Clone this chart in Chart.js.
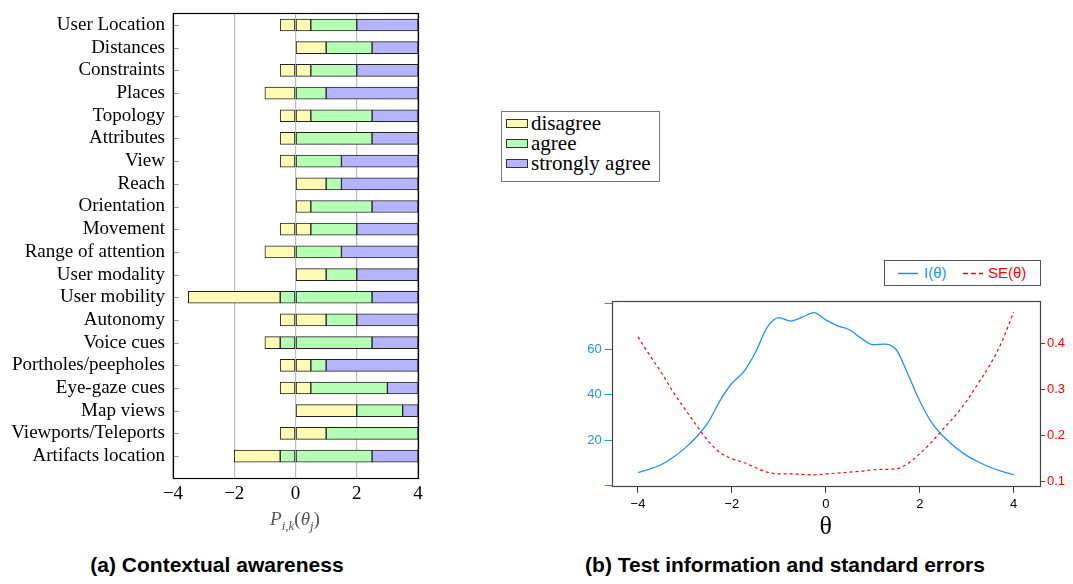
<!DOCTYPE html>
<html>
<head>
<meta charset="utf-8">
<script src="https://cdn.jsdelivr.net/npm/chart.js@4.4.1/dist/chart.umd.min.js"></script>
<style>
  html, body { margin: 0; padding: 0; background: #fff; }
  body { width: 1073px; height: 584px; position: relative; overflow: hidden; }
  #chartA { position: absolute; left: 0; top: 0; }
  #chartB { position: absolute; left: 560px; top: 290px; }
  .legend-a {
    position: absolute; left: 501px; top: 111px; width: 157px; height: 68px;
    border: 1px solid #777; font-family: "Liberation Serif", serif; font-size: 21px; padding-top: 1px;
  }
  .legend-a .row { height: 20px; line-height: 20px; display: flex; align-items: center; }
  .legend-a .sw { width: 20px; height: 7px; border: 1px solid #333; margin: 0 3px 0 4px; }
  .legend-b {
    position: absolute; left: 884px; top: 260px; width: 155px; height: 24px;
    border: 1px solid #555; font-family: "Liberation Sans", Arial, sans-serif; font-size: 15px;
  }
  .legend-b span { position: absolute; top: 3px; line-height: 18px; }
  .legend-b svg { position: absolute; top: 0; left: 0; }
  .xtitle-a {
    position: absolute; left: 195px; width: 200px; top: 507px; text-align: center;
    font-family: "Liberation Serif", serif; font-size: 19px; color: #555; line-height: 24px;
  }
  .xtitle-a sub { font-size: 13px; font-style: italic; }
  .caption {
    position: absolute; top: 553px; width: 500px; text-align: center; line-height: 24px;
    font-family: "Liberation Sans", Arial, sans-serif; font-weight: bold; font-size: 21px; color: #000;
  }
</style>
</head>
<body>
<canvas id="chartA" width="440" height="540"></canvas>
<canvas id="chartB" width="513" height="260"></canvas>

<div class="legend-a">
  <div class="row"><div class="sw" style="background:#FFFAB5"></div>disagree</div>
  <div class="row"><div class="sw" style="background:#B5FFB5"></div>agree</div>
  <div class="row"><div class="sw" style="background:#B5B5FF"></div>strongly agree</div>
</div>

<div class="legend-b">
  <svg width="155" height="24">
    <line x1="13" y1="12.5" x2="33" y2="12.5" stroke="#1E90FF" stroke-width="1.5"/>
    <line x1="78" y1="12.5" x2="98" y2="12.5" stroke="#FF0000" stroke-width="1.5" stroke-dasharray="5,3"/>
  </svg>
  <span style="left:39px;color:#1E90FF">I(θ)</span>
  <span style="left:103px;color:#FF0000">SE(θ)</span>
</div>

<div class="xtitle-a"><i>P</i><sub>i,k</sub>(<i>θ</i><sub>j</sub>)</div>
<div class="caption" style="left:-33px">(a) Contextual awareness</div>
<div class="caption" style="left:535px">(b) Test information and standard errors</div>

<script>
// Panel (a) data: where each answer band starts on the theta scale
const categories = [
  "User Location", "Distances", "Constraints", "Places", "Topology", "Attributes", "View",
  "Reach", "Orientation", "Movement", "Range of attention", "User modality", "User mobility",
  "Autonomy", "Voice cues", "Portholes/peepholes", "Eye-gaze cues", "Map views",
  "Viewports/Teleports", "Artifacts location"
];
const disagreeFrom = [-0.5, 0, -0.5, -1, -0.5, -0.5, -0.5, 0, 0, -0.5, -1, 0, -3.5, -0.5, -1, -0.5, -0.5, 0, -0.5, -2];
const agreeFrom = [0.5, 1, 0.5, 0, 0.5, 0, 0, 1, 0.5, 0.5, 0, 1, -0.5, 1, -0.5, 0.5, 0.5, 2, 1, -0.5];
const stronglyFrom = [2, 2.5, 2, 1, 2.5, 2.5, 1.5, 1.5, 2.5, 2, 1.5, 2, 2.5, 2, 2.5, 1, 3, 3.5, 4, 2.5];
const upperBound = 4;
const thetaTicksA = [-4, -2, 0, 2, 4];

// Panel (b) data
const thetaGrid = [-4, -3.75, -3.5, -3.25, -3, -2.75, -2.5, -2.25, -2, -1.75, -1.5, -1.25, -1, -0.75, -0.5, -0.25,
  0, 0.25, 0.5, 0.75, 1, 1.25, 1.5, 1.75, 2, 2.25, 2.5, 2.75, 3, 3.25, 3.5, 3.75, 4];
const infoValues = [5.8, 7.3, 9.3, 12.5, 16.5, 21.5, 28, 37.5, 45, 50, 58.5, 69.5, 73.8, 72.3, 74, 76,
  72.8, 70.2, 68.5, 64.8, 61.9, 62.2, 59.7, 48.8, 37.2, 27.8, 21.7, 17, 13.2, 10.4, 8.1, 6.3, 4.8];
const seValues = [0.415, 0.375, 0.337, 0.295, 0.258, 0.222, 0.188, 0.163, 0.150, 0.142, 0.131, 0.121, 0.117, 0.117, 0.116, 0.115,
  0.117, 0.119, 0.121, 0.123, 0.126, 0.127, 0.128, 0.140, 0.161, 0.186, 0.215, 0.243, 0.276, 0.315, 0.355, 0.405, 0.469];
const thetaTicksB = [-4, -2, 0, 2, 4];
const infoTicks = [0, 20, 40, 60, 80];
const seTicks = [0.1, 0.2, 0.3, 0.4];

const minusSign = v => (v < 0 ? "\u2212" + Math.abs(v) : String(v));

// Frame around the plot area (+ inward tick marks for the category axis)
const framePlugin = {
  id: "frame",
  afterDatasetsDraw(chart, args, opts) {
    const { ctx, chartArea: a } = chart;
    ctx.save();
    if (opts.innerTicks) {
      ctx.strokeStyle = "#999";
      ctx.lineWidth = 1;
      chart.scales.y.ticks.forEach(t => {
        const py = Math.round(chart.scales.y.getPixelForValue(t.value)) + 0.5;
        ctx.beginPath();
        ctx.moveTo(a.left, py);
        ctx.lineTo(a.left + 6, py);
        ctx.stroke();
      });
    }
    ctx.strokeStyle = opts.color || "#000";
    ctx.lineWidth = opts.width || 1;
    ctx.strokeRect(Math.round(a.left) + 0.5, Math.round(a.top) + 0.5,
      Math.round(a.right - a.left), Math.round(a.bottom - a.top));
    ctx.restore();
  }
};

// Panel (a): floating bars, every band split at zero like the original
const levels = [
  { label: "disagree", color: "#FFFAB5", from: disagreeFrom, to: agreeFrom },
  { label: "agree", color: "#B5FFB5", from: agreeFrom, to: stronglyFrom },
  { label: "strongly agree", color: "#B5B5FF", from: stronglyFrom, to: categories.map(() => upperBound) }
];
const barSets = [];
levels.forEach(lv => {
  const neg = [];
  const pos = [];
  categories.forEach((c, i) => {
    const a = lv.from[i];
    const b = lv.to[i];
    if (b <= a) return;
    if (a < 0) neg.push({ x: [a, Math.min(b, 0)], y: i });
    if (b > 0) pos.push({ x: [Math.max(a, 0), b], y: i });
  });
  [neg, pos].forEach(data => {
    barSets.push({
      label: lv.label,
      data,
      backgroundColor: lv.color,
      borderColor: "#222",
      borderWidth: 1,
      borderSkipped: false,
      barThickness: 12,
      grouped: false
    });
  });
});

new Chart(document.getElementById("chartA"), {
  type: "bar",
  data: { datasets: barSets },
  plugins: [framePlugin],
  options: {
    indexAxis: "y",
    responsive: false,
    animation: false,
    layout: { padding: { top: 13.3, right: 22, left: 0, bottom: 0 } },
    plugins: {
      legend: { display: false },
      tooltip: { enabled: false },
      frame: { color: "#000", width: 1.2, innerTicks: true }
    },
    scales: {
      x: {
        type: "linear",
        bounds: "data",
        min: -4,
        max: 4,
        afterBuildTicks: s => { s.ticks = thetaTicksA.map(v => ({ value: v })); },
        afterFit: s => { s.height = 61.7; s.paddingLeft = 0; s.paddingRight = 0; },
        grid: { color: "#bdbdbd", lineWidth: 1.2, drawTicks: false },
        border: { display: false },
        ticks: {
          callback: v => minusSign(v),
          color: "#000",
          padding: 4,
          maxRotation: 0,
          font: { family: "Liberation Serif", size: 19 }
        }
      },
      y: {
        type: "linear",
        bounds: "data",
        offset: false,
        reverse: true,
        min: -0.516,
        max: 19.98,
        afterBuildTicks: s => { s.ticks = categories.map((c, i) => ({ value: i })); },
        afterFit: s => { s.width = 173; s.paddingTop = 0; s.paddingBottom = 0; },
        grid: { display: false, drawTicks: false, offset: false },
        border: { display: false },
        ticks: {
          autoSkip: false,
          callback: v => categories[v],
          color: "#000",
          padding: 8,
          font: { family: "Liberation Serif", size: 19 }
        }
      }
    }
  }
});

// Panel (b): test information and standard errors
new Chart(document.getElementById("chartB"), {
  type: "line",
  data: {
    datasets: [
      {
        label: "I(θ)",
        data: thetaGrid.map((t, i) => ({ x: t, y: infoValues[i] })),
        yAxisID: "y",
        borderColor: "#1E90FF",
        borderWidth: 1.3,
        pointRadius: 0,
        cubicInterpolationMode: "monotone"
      },
      {
        label: "SE(θ)",
        data: thetaGrid.map((t, i) => ({ x: t, y: seValues[i] })),
        yAxisID: "y1",
        borderColor: "#FF0000",
        borderWidth: 1.2,
        borderDash: [3, 3],
        pointRadius: 0,
        cubicInterpolationMode: "monotone"
      }
    ]
  },
  plugins: [framePlugin],
  options: {
    responsive: false,
    animation: false,
    layout: { padding: { top: 9.3, left: 0, right: 0, bottom: 0 } },
    plugins: {
      legend: { display: false },
      tooltip: { enabled: false },
      frame: { color: "#444", width: 1.2 }
    },
    scales: {
      x: {
        type: "linear",
        bounds: "data",
        min: -4.56,
        max: 4.56,
        afterBuildTicks: s => { s.ticks = thetaTicksB.map(v => ({ value: v })); },
        afterFit: s => { s.height = 64.3; },
        grid: { drawOnChartArea: false, tickLength: 7, color: "#333" },
        border: { display: false },
        ticks: {
          callback: v => minusSign(v),
          color: "#000",
          padding: 4,
          maxRotation: 0,
          font: { family: "Liberation Sans", size: 13 }
        },
        title: {
          display: true,
          text: "θ",
          color: "#000",
          padding: { top: 0, bottom: 10 },
          font: { family: "Liberation Serif", size: 26, lineHeight: 1 }
        }
      },
      y: {
        position: "left",
        bounds: "data",
        min: 0,
        max: 81.2,
        afterBuildTicks: s => { s.ticks = infoTicks.map(v => ({ value: v })); },
        afterFit: s => { s.width = 51.7; },
        grid: { drawOnChartArea: false, tickLength: 7, color: "#1E90FF" },
        border: { display: false },
        ticks: {
          callback: v => (v === 0 || v === 80 ? "" : String(v)),
          color: "#1E90FF",
          padding: 3,
          font: { family: "Liberation Sans", size: 13 }
        }
      },
      y1: {
        position: "right",
        bounds: "data",
        min: 0.0914,
        max: 0.4935,
        afterBuildTicks: s => { s.ticks = seTicks.map(v => ({ value: v })); },
        afterFit: s => { s.width = 33; },
        grid: { drawOnChartArea: false, tickLength: 5, color: "#FF0000" },
        border: { display: false },
        ticks: {
          callback: v => v.toFixed(1),
          color: "#FF0000",
          padding: 2,
          font: { family: "Liberation Sans", size: 13 }
        }
      }
    }
  }
});
</script>
</body>
</html>
